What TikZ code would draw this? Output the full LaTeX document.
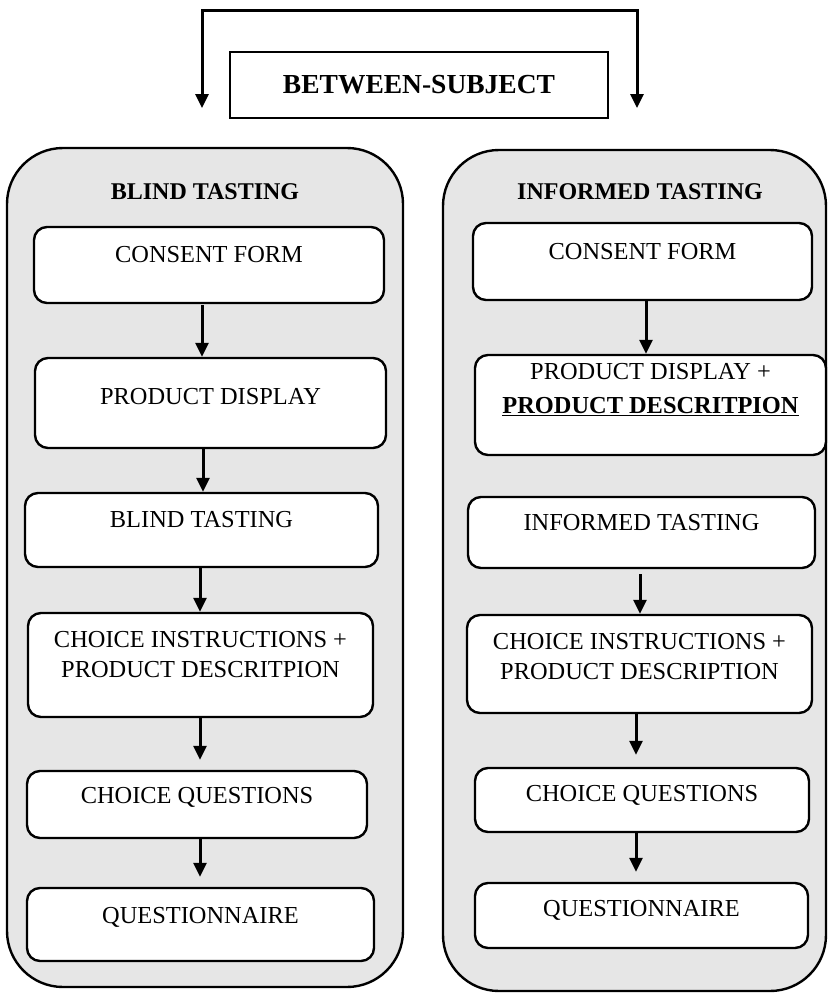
\documentclass[tikz,border=0pt]{standalone}
\usepackage{fontspec}
\setmainfont{Liberation Serif}
\usetikzlibrary{arrows.meta}
\definecolor{bgray}{RGB}{230,230,230}
\begin{document}
\begin{tikzpicture}[x=1pt,y=-1pt,
  container/.style={draw, line width=2.4pt, fill=bgray, rounded corners=56pt, inner sep=0pt},
  stepbox/.style={draw, line width=2.4pt, fill=white, rounded corners=13pt, inner sep=0pt},
  topbox/.style={draw, line width=1.5pt, fill=white, inner sep=0pt, font=\fontsize{27.5}{30}\selectfont\bfseries},
  arr/.style={line width=3pt, -{Triangle[length=14pt,width=13pt]}},
  topline/.style={line width=3pt, {Triangle[length=14pt,width=13pt]}-{Triangle[length=14pt,width=13pt]}},
  txt/.style={font=\fontsize{24.4}{30}\selectfont, align=center, inner sep=0pt},
  ttl/.style={font=\fontsize{24}{30}\selectfont\bfseries, align=center, inner sep=0pt}]
\useasboundingbox (0,0) rectangle (828,993);

% top
\coordinate (tl) at (202,10);
\coordinate (tr) at (637,10);
\coordinate (la) at (202,108);
\coordinate (ra) at (637,108);
\node[topbox, minimum width=378pt, minimum height=66pt] (bs) at (419,85) {BETWEEN-SUBJECT};
\draw[topline] (la) -- (tl) -- (tr) -- (ra);

% containers
\node[container, minimum width=396pt, minimum height=839pt] (L) at (205,567.5) {};
\node[container, minimum width=383pt, minimum height=841pt] (R) at (634.5,570.5) {};
\node[ttl] (Lt) at (205,192) {BLIND TASTING};
\node[ttl] (Rt) at (640,192) {INFORMED TASTING};

% left boxes
\node[stepbox, minimum width=350pt, minimum height=76pt] (l1) at (209,265) {};
\node[stepbox, minimum width=351pt, minimum height=90pt] (l2) at (210.5,403) {};
\node[stepbox, minimum width=353pt, minimum height=74pt] (l3) at (201.5,530) {};
\node[stepbox, minimum width=345pt, minimum height=104pt] (l4) at (200.5,665) {};
\node[stepbox, minimum width=340pt, minimum height=67pt] (l5) at (197,804.5) {};
\node[stepbox, minimum width=347pt, minimum height=73pt] (l6) at (200.5,924.5) {};
\node[txt] (l1t) at (209,255) {CONSENT FORM};
\node[txt] (l2t) at (210.5,397) {PRODUCT DISPLAY};
\node[txt] (l3t) at (201.5,520) {BLIND TASTING};
\node[txt] (l4t) at (200.5,655) {CHOICE INSTRUCTIONS +\\PRODUCT DESCRITPION};
\node[txt] (l5t) at (197,797) {CHOICE QUESTIONS};
\node[txt] (l6t) at (200.5,917) {QUESTIONNAIRE};

% right boxes
\node[stepbox, minimum width=339pt, minimum height=77pt] (r1) at (642.5,261.5) {};
\node[stepbox, minimum width=351pt, minimum height=100pt] (r2) at (650.5,405) {};
\node[stepbox, minimum width=347pt, minimum height=71pt] (r3) at (641.5,532.5) {};
\node[stepbox, minimum width=345pt, minimum height=98pt] (r4) at (639.5,664) {};
\node[stepbox, minimum width=334pt, minimum height=64pt] (r5) at (642,800) {};
\node[stepbox, minimum width=333pt, minimum height=65pt] (r6) at (641.5,915.5) {};
\node[txt] (r1t) at (642.5,252) {CONSENT FORM};
\node[txt, font=\fontsize{24.4}{34}\selectfont] (r2t) at (650.5,390) {PRODUCT DISPLAY +\\\textbf{\underline{PRODUCT DESCRITPION}}};
\node[txt] (r3t) at (641.5,523) {INFORMED TASTING};
\node[txt] (r4t) at (639.5,657) {CHOICE INSTRUCTIONS +\\PRODUCT DESCRIPTION};
\node[txt] (r5t) at (642,795) {CHOICE QUESTIONS};
\node[txt] (r6t) at (641.5,910) {QUESTIONNAIRE};

% left arrows
\draw[arr, shorten <=1pt] ([xshift=-7pt]l1.south) -- ([xshift=-8.5pt]l2.north);
\draw[arr] ([xshift=-7.5pt]l2.south) -- ([xshift=1.5pt]l3.north);
\draw[arr] ([xshift=-1.5pt]l3.south) -- ([xshift=-0.5pt]l4.north);
\draw[arr, shorten >=10pt] ([xshift=-0.5pt]l4.south) -- ([xshift=3pt]l5.north);
\draw[arr, shorten >=10pt] ([xshift=3pt]l5.south) -- ([xshift=-0.5pt]l6.north);

% right arrows
\draw[arr] ([xshift=3.5pt]r1.south) -- ([xshift=-4.5pt]r2.north);
\draw[arr, shorten <=5pt] ([xshift=-1.5pt]r3.south) -- ([xshift=0.5pt]r4.north);
\draw[arr, shorten >=12pt] ([xshift=-3.5pt]r4.south) -- ([xshift=-6pt]r5.north);
\draw[arr, shorten >=10pt] ([xshift=-6pt]r5.south) -- ([xshift=-5.5pt]r6.north);
\end{tikzpicture}
\end{document}
